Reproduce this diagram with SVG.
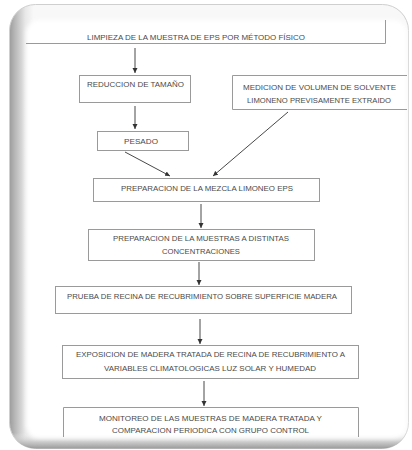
<svg xmlns="http://www.w3.org/2000/svg" width="412" height="450" viewBox="0 0 412 450">
<defs>
<linearGradient id="lg" x1="0" y1="0" x2="1" y2="0">
<stop offset="0" stop-color="#9c9c9c"/>
<stop offset="0.012" stop-color="#b4b4b4"/>
<stop offset="0.04" stop-color="#e8e8e8"/>
<stop offset="0.06" stop-color="#f8f8f8"/>
<stop offset="1" stop-color="#f8f8f8"/>
</linearGradient>
<linearGradient id="bg" x1="0" y1="0" x2="0" y2="1">
<stop offset="0" stop-color="#fbfbfb" stop-opacity="0"/>
<stop offset="0.965" stop-color="#f2f2f2" stop-opacity="0"/>
<stop offset="0.985" stop-color="#c0c0c0" stop-opacity="0.8"/>
<stop offset="1" stop-color="#909090" stop-opacity="0.9"/>
</linearGradient>
<marker id="ah" markerWidth="6" markerHeight="6" refX="5" refY="3" orient="auto" markerUnits="userSpaceOnUse">
<path d="M0,0.5 L5,3 L0,5.5 Z" fill="#333"/>
</marker>
<filter id="soft" x="-5%" y="-5%" width="110%" height="110%"><feGaussianBlur stdDeviation="2"/></filter>
</defs>
<style>
.box{fill:none;stroke:#9a9a9a;stroke-width:1}
.t{font-family:"Liberation Sans",Arial,sans-serif;font-size:7px;fill:#4a4a4a;text-anchor:middle}
.c{stroke:#333;stroke-width:0.9;fill:none;marker-end:url(#ah)}
</style>
<g id="frame">
<rect x="9.5" y="4.5" width="399" height="444" rx="26" fill="url(#lg)" stroke="#cfcfcf"/>
<rect x="9.5" y="4.5" width="399" height="444" rx="26" fill="url(#bg)"/>
<rect x="26" y="20" width="381" height="418" rx="14" fill="#ffffff" filter="url(#soft)"/>
</g>
<g id="connectors">
<line class="c" x1="135" y1="48" x2="135" y2="73"/>
<line class="c" x1="135" y1="106" x2="135" y2="129"/>
<line class="c" x1="125" y1="152" x2="170" y2="176"/>
<line class="c" x1="288" y1="112" x2="213" y2="176"/>
<line class="c" x1="201" y1="204" x2="201" y2="228"/>
<line class="c" x1="199" y1="262" x2="199" y2="285"/>
<line class="c" x1="200" y1="319" x2="200" y2="344"/>
<line class="c" x1="204" y1="381" x2="204" y2="406"/>
</g>
<g id="n1"><path class="box" d="M26,43.5 H385.5 V20"/><text class="t" x="196" y="39.5" textLength="218" lengthAdjust="spacingAndGlyphs">LIMPIEZA DE LA MUESTRA DE EPS POR MÉTODO FÍSICO</text></g>
<g id="n2"><rect class="box" x="79.5" y="75.5" width="111" height="27"/><text class="t" x="135.5" y="86.5" textLength="97" lengthAdjust="spacingAndGlyphs">REDUCCION DE TAMAÑO</text></g>
<g id="n3"><path class="box" d="M407,75.5 H232.5 V109.5 H407"/><text class="t" x="319.5" y="89.5" textLength="153" lengthAdjust="spacingAndGlyphs">MEDICION DE VOLUMEN DE SOLVENTE</text><text class="t" x="319" y="103" textLength="144" lengthAdjust="spacingAndGlyphs">LIMONENO PREVISAMENTE EXTRAIDO</text></g>
<g id="n4"><rect class="box" x="97.5" y="131.5" width="91" height="19"/><text class="t" x="141" y="143.5" textLength="34" lengthAdjust="spacingAndGlyphs">PESADO</text></g>
<g id="n5"><rect class="box" x="93.5" y="178.5" width="226" height="23"/><text class="t" x="207" y="190.5" textLength="172" lengthAdjust="spacingAndGlyphs">PREPARACION DE LA MEZCLA LIMONEO EPS</text></g>
<g id="n6"><rect class="box" x="88.5" y="229.5" width="226" height="31"/><text class="t" x="201" y="240.5" textLength="176" lengthAdjust="spacingAndGlyphs">PREPARACION DE LA MUESTRAS A DISTINTAS</text><text class="t" x="201" y="253.5" textLength="78" lengthAdjust="spacingAndGlyphs">CONCENTRACIONES</text></g>
<g id="n7"><rect class="box" x="55.5" y="286.5" width="296" height="27"/><text class="t" x="202" y="298.5" textLength="270" lengthAdjust="spacingAndGlyphs">PRUEBA DE RECINA DE RECUBRIMIENTO SOBRE SUPERFICIE MADERA</text></g>
<g id="n8"><rect class="box" x="62.5" y="345.5" width="296" height="33"/><text class="t" x="210.5" y="356.5" textLength="269" lengthAdjust="spacingAndGlyphs">EXPOSICION DE MADERA TRATADA DE RECINA DE RECUBRIMIENTO A</text><text class="t" x="210" y="371" textLength="212" lengthAdjust="spacingAndGlyphs">VARIABLES CLIMATOLOGICAS LUZ SOLAR Y HUMEDAD</text></g>
<g id="n9"><path class="box" d="M63.5,437 V407.5 H358.5 V437"/><text class="t" x="210.5" y="420.5" textLength="223" lengthAdjust="spacingAndGlyphs">MONITOREO DE LAS MUESTRAS DE MADERA TRATADA Y</text><text class="t" x="210.5" y="433" textLength="197" lengthAdjust="spacingAndGlyphs">COMPARACION PERIODICA CON GRUPO CONTROL</text></g>
</svg>
